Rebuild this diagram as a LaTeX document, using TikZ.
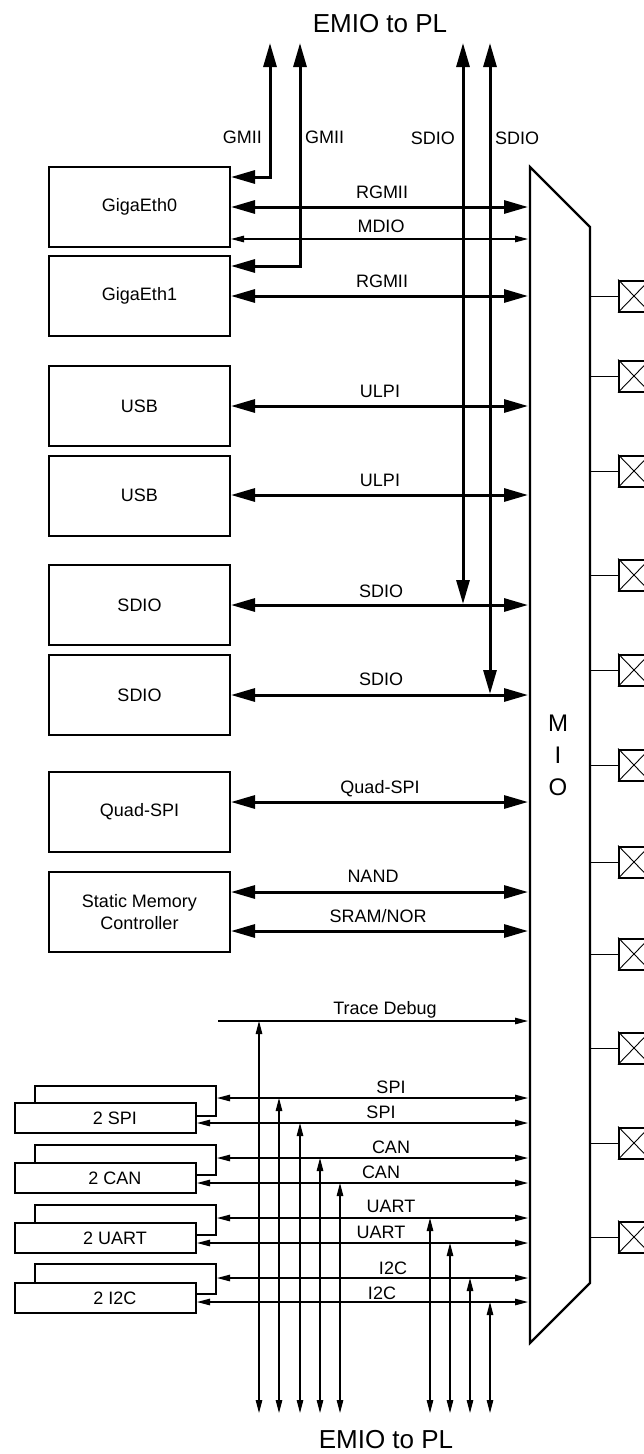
\documentclass[tikz,border=0pt]{standalone}
\usepackage{fontspec}
\setmainfont{Liberation Sans}
\usetikzlibrary{arrows.meta}
\newcommand\lblfont{\fontsize{18}{22}\selectfont}
\begin{document}
\begin{tikzpicture}[x=1pt,y=-1pt,
  bigbox/.style={draw,line width=2pt,minimum width=181pt,minimum height=80pt,inner sep=0pt,font=\lblfont,align=center},
  smallbox/.style={draw,line width=2pt,fill=white,minimum width=181pt,minimum height=30pt,inner sep=0pt},
  thickarrow/.style={line width=3pt,{Triangle[length=24pt,width=13pt]}-{Triangle[length=24pt,width=13pt]}},
  thinarrow/.style={line width=1.2pt,{Triangle[length=13pt,width=6.5pt]}-{Triangle[length=13pt,width=6.5pt]}},
  thinright/.style={line width=1.2pt,-{Triangle[length=13pt,width=6.5pt]}},
  lbl/.style={font=\lblfont,inner sep=0pt,anchor=base},
  emio/.style={font=\fontsize{26}{30}\selectfont,inner sep=0pt,anchor=base},
  pad/.style={draw,line width=2pt,minimum width=30pt,minimum height=31pt,inner sep=0pt},
  padline/.style={line width=1pt},
  miostyle/.style={line width=2.2pt,line join=miter}
]
\useasboundingbox (0,0) rectangle (644,1454);
\clip (0,0) rectangle (644,1454);

% MIO block
\coordinate (mtl) at (530,167);
\coordinate (mtr) at (590,227);
\coordinate (mbr) at (590,1283);
\coordinate (mbl) at (530,1343);
\draw[miostyle] (mtl) -- (mtr) -- (mbr) -- (mbl) -- cycle;
\node[font=\fontsize{24}{32}\selectfont,align=center,inner sep=0pt] (miolbl) at (558,755) {M\\I\\O};

% pads
\foreach \i/\y in {1/296,2/376,3/471,4/575,5/670,6/765,7/862,8/954,9/1048,10/1143,11/1237}{
  \node[pad] (p\i) at (634,\y) {};
  \draw[line width=0.9pt] (p\i.north west) -- (p\i.south east);
  \draw[line width=0.9pt] (p\i.south west) -- (p\i.north east);
  \draw[padline] (mtr |- p\i.west) -- (p\i.west);
}

% big boxes
\node[bigbox] (ge0) at (139.5,207) {GigaEth0};
\node[bigbox] (ge1) at (139.5,296) {GigaEth1};
\node[bigbox] (usb0) at (139.5,406) {USB};
\node[bigbox] (usb1) at (139.5,495.5) {USB};
\node[bigbox] (sd0) at (139.5,605) {SDIO};
\node[bigbox] (sd1) at (139.5,695) {SDIO};
\node[bigbox] (qspi) at (139.5,812) {Quad-SPI};
\node[bigbox] (smc) at (139.5,912) {Static Memory\\Controller};

% MIO-side end points
\foreach \n/\y in {rg0/207,md/239,rg1/296,ul0/406,ul1/495,sd0/605,sd1/695,qs/802,nand/892,sram/931,trace/1021,spia/1098,spib/1123,cana/1158,canb/1183,uarta/1218,uartb/1243,i2ca/1278,i2cb/1302}{
  \coordinate (m\n) at (528,\y);
}

% thick connectors
\draw[thickarrow] (ge0.east |- mrg0) -- (mrg0);
\draw[thinarrow] (ge0.east |- mmd) -- (mmd);
\draw[thickarrow] (ge1.east |- mrg1) -- (mrg1);
\draw[thickarrow] (usb0.east |- mul0) -- (mul0);
\draw[thickarrow] (usb1.east |- mul1) -- (mul1);
\draw[thickarrow] (sd0.east |- msd0) -- (msd0);
\draw[thickarrow] (sd1.east |- msd1) -- (msd1);
\draw[thickarrow] (qspi.east |- mqs) -- (mqs);
\draw[thickarrow] (smc.east |- mnand) -- (mnand);
\draw[thickarrow] (smc.east |- msram) -- (msram);

% GMII to PL
\coordinate (gtop0) at (270,43);
\coordinate (gc0) at (270,177);
\coordinate (gtop1) at (300,43);
\coordinate (gc1) at (300,266);
\draw[thickarrow,line join=miter] (gtop0) -- (gc0) -- (ge0.east |- gc0);
\draw[thickarrow,line join=miter] (gtop1) -- (gc1) -- (ge1.east |- gc1);

% SDIO to PL
\coordinate (stop0) at (463,43);
\coordinate (sbot0) at (463,604);
\coordinate (stop1) at (490,43);
\coordinate (sbot1) at (490,694);
\draw[thickarrow] (stop0) -- (sbot0);
\draw[thickarrow] (stop1) -- (sbot1);

% top labels
\node[emio] (emiotop) at (380,32) {EMIO to PL};
\node[lbl,anchor=base east] (lg0) at (262,143) {GMII};
\node[lbl,anchor=base west] (lg1) at (305,143) {GMII};
\node[lbl,anchor=base east] (ls0) at (455,144) {SDIO};
\node[lbl,anchor=base west] (ls1) at (495,144) {SDIO};
\node[lbl] (lrg0) at (382,198) {RGMII};
\node[lbl] (lmd) at (381,232) {MDIO};
\node[lbl] (lrg1) at (382,287) {RGMII};
\node[lbl] (lul0) at (380,397) {ULPI};
\node[lbl] (lul1) at (380,486) {ULPI};
\node[lbl] (lsd0) at (381,597) {SDIO};
\node[lbl] (lsd1) at (381,685) {SDIO};
\node[lbl] (lqs) at (380,793) {Quad-SPI};
\node[lbl] (lnand) at (373,882) {NAND};
\node[lbl] (lsram) at (378,922) {SRAM/NOR};

% small stacked boxes
\foreach \n/\t/\yb/\yf in {spi/2 SPI/1101/1118, can/2 CAN/1160/1178, uart/2 UART/1220/1238, iic/2 I2C/1279/1298}{
  \node[smallbox] (\n-b) at (125.5,\yb) {};
  \node[smallbox] (\n-f) at (105.5,\yf) {};
  \node[lbl,anchor=center] (\n-t) at (115,\yf) {\t};
}

% trace debug
\coordinate (tstart) at (218,1021);
\draw[thinright] (tstart) -- (mtrace);
\node[lbl] (ltrace) at (385,1014) {Trace Debug};

% thin connectors from peripherals
\draw[thinarrow] (spi-b.east |- mspia) -- (mspia);
\draw[thinarrow] (spi-f.east |- mspib) -- (mspib);
\draw[thinarrow] (can-b.east |- mcana) -- (mcana);
\draw[thinarrow] (can-f.east |- mcanb) -- (mcanb);
\draw[thinarrow] (uart-b.east |- muarta) -- (muarta);
\draw[thinarrow] (uart-f.east |- muartb) -- (muartb);
\draw[thinarrow] (iic-b.east |- mi2ca) -- (mi2ca);
\draw[thinarrow] (iic-f.east |- mi2cb) -- (mi2cb);

\node[lbl] (lspia) at (391,1093) {SPI};
\node[lbl] (lspib) at (381,1118) {SPI};
\node[lbl] (lcana) at (391,1153) {CAN};
\node[lbl] (lcanb) at (381,1178) {CAN};
\node[lbl] (luarta) at (391,1212) {UART};
\node[lbl] (luartb) at (381,1238) {UART};
\node[lbl] (li2ca) at (393,1274) {I2C};
\node[lbl] (li2cb) at (382,1299) {I2C};

% verticals to EMIO
\foreach \k/\x/\t in {1/259/trace,2/279/spia,3/300/spib,4/320/cana,5/340/canb,6/430/uarta,7/450/uartb,8/470/i2ca,9/490/i2cb}{
  \coordinate (vb\k) at (\x,1413);
  \draw[thinarrow] (vb\k) -- (vb\k |- m\t);
}
\node[emio] (emiobot) at (386,1448) {EMIO to PL};
\end{tikzpicture}
\end{document}
